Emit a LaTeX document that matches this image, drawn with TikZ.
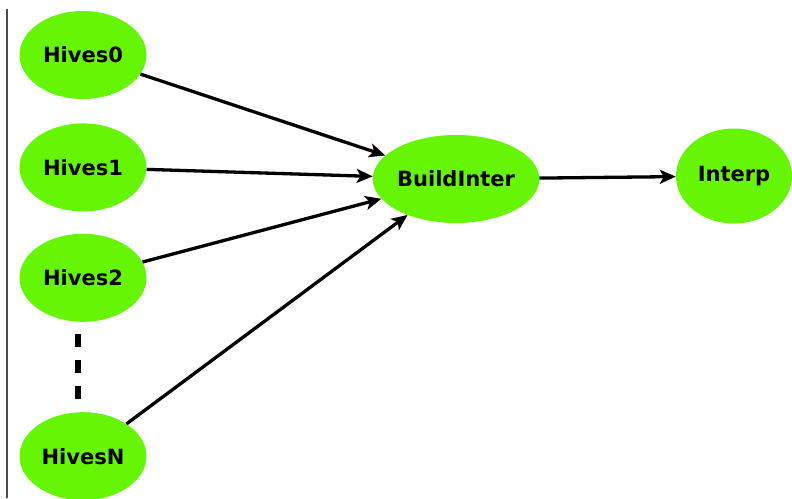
\documentclass[tikz,border=0pt]{standalone}
\usepackage{fontspec}
\setsansfont{DejaVu Sans}
\usepackage{tikz}
\usetikzlibrary{positioning}
\usetikzlibrary{arrows.meta, shapes}
\definecolor{hivegreen}{RGB}{102,245,4}

\begin{document}
\begin{tikzpicture}[x=1pt,y=1pt]

\tikzset{hive/.style={
		ellipse,
		fill=hivegreen,
		minimum width=#1,
		minimum height=88pt,
		inner sep=0pt,
		font=\sffamily\bfseries\fontsize{21}{24}\selectfont
	},
	hive/.default=127pt,
	flow/.style={line width=3.3pt, -{Stealth[length=16pt,width=14pt,inset=4pt]}}
}
\useasboundingbox (0,0) rectangle (792,498);
\draw[line width=1.2pt, black!70] (7,489) -- (7,0);

%left column
\node[hive] (hives0) at (83,443) {Hives0};
\node[hive, below=24pt of hives0] (hives1) {Hives1};
\node[hive, below=22pt of hives1] (hives2) {Hives2};
\node[hive, below=90pt of hives2] (hivesN) {HivesN};

\node[hive=158pt] (build) at (456,319) {BuildInter};
\node[hive=116pt, minimum height=95pt] (interp) at (734,322) {Interp};

\foreach \n in {hives0,hives1,hives2,hivesN}
	\draw[flow] (\n) -- (build);
\draw[flow] (build) -- (interp);

\draw[line width=6.5pt, dash pattern=on 13pt off 13pt]
	([xshift=-5pt,yshift=-12pt]hives2.south) -- ([xshift=-5pt]hivesN.north);
\end{tikzpicture}
\end{document}
